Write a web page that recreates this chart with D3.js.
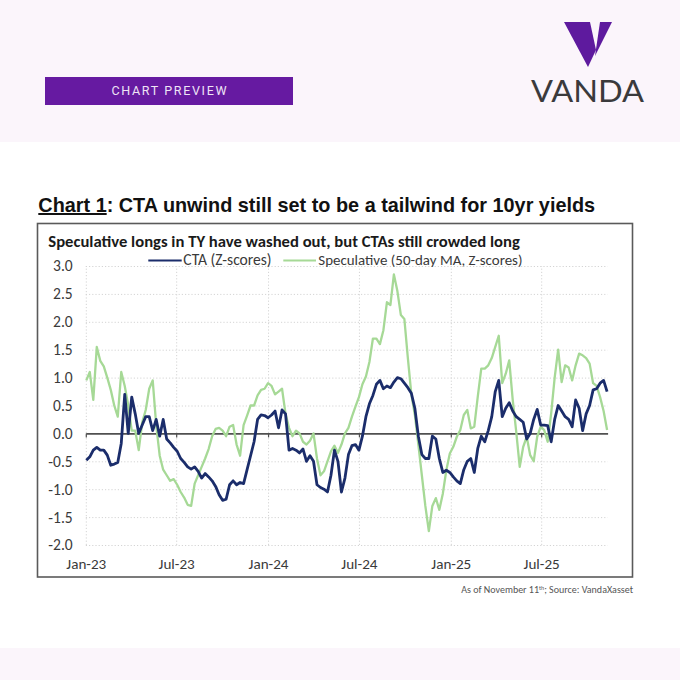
<!DOCTYPE html>
<html><head><meta charset="utf-8">
<script src="https://cdn.jsdelivr.net/npm/d3@7"></script>
<style>html,body{margin:0;padding:0;background:#fff;}svg{display:block;}</style>
</head><body>
<svg id="c" width="680" height="680"></svg>
<script>
// ---------------- data ----------------
const chartTitleLead = "Chart 1";
const chartTitleRest = ": CTA unwind still set to be a tailwind for 10yr yields";
const subtitle = "Speculative longs in TY have washed out, but CTAs still crowded long";
const seriesNames = ["CTA (Z-scores)", "Speculative (50-day MA, Z-scores)"];
const yTicks = [3.0, 2.5, 2.0, 1.5, 1.0, 0.5, 0.0, -0.5, -1.0, -1.5, -2.0];
const xTickLabels = ["2023-01-01", "2023-07-01", "2024-01-01", "2024-07-01", "2025-01-01", "2025-07-01"];
const firstWeek = "2023-01-02"; // weekly observations
const lastDate = "2025-11-11";

const ctaValues = [
 -0.48,-0.42,-0.30,-0.25,-0.30,-0.30,-0.39,-0.57,-0.55,-0.52,
 -0.18,0.70,0.00,0.65,0.35,0.00,0.15,0.30,0.30,0.05,
 0.25,-0.05,0.25,-0.10,-0.17,-0.25,-0.32,-0.45,-0.52,-0.60,
 -0.64,-0.60,-0.68,-0.80,-0.72,-0.78,-0.85,-0.95,-1.10,-1.20,
 -1.18,-0.92,-0.85,-0.92,-0.88,-0.90,-0.65,-0.40,-0.15,0.25,
 0.33,0.32,0.28,0.33,0.40,0.10,0.42,0.35,-0.30,-0.27,
 -0.30,-0.35,-0.28,-0.50,-0.40,-0.50,-0.92,-0.97,-1.00,-1.05,
 -0.75,-0.30,-0.50,-1.05,-0.80,-0.38,-0.22,-0.20,-0.30,-0.05,
 0.30,0.53,0.68,0.88,0.95,0.80,0.85,0.82,0.92,1.00,
 0.98,0.90,0.82,0.72,0.45,-0.05,-0.38,-0.45,-0.45,-0.05,
 -0.10,-0.45,-0.70,-0.66,-0.70,-0.78,-0.85,-0.90,-0.65,-0.50,
 -0.45,-0.70,-0.27,-0.05,-0.15,0.05,0.30,0.75,0.95,0.30,
 0.45,0.55,0.40,0.30,0.25,0.20,-0.10,0.00,0.25,0.43,
 0.15,0.15,0.14,-0.15,0.25,0.50,0.40,0.30,0.25,0.12,
 0.60,0.45,0.05,0.35,0.50,0.78,0.80,0.90,0.95,0.75
];
const specValues = [
 0.95,1.10,0.60,1.55,1.30,1.20,1.00,0.78,0.50,0.30,
 1.10,0.85,0.50,0.05,0.05,-0.30,0.20,0.42,0.80,0.95,
 0.15,-0.40,-0.65,-0.75,-0.85,-0.82,-0.92,-1.05,-1.15,-1.28,
 -1.30,-0.90,-0.75,-0.60,-0.45,-0.28,-0.05,0.08,0.10,0.05,
 -0.05,0.12,0.15,-0.20,-0.40,0.15,0.32,0.50,0.50,0.68,
 0.78,0.80,0.90,0.85,0.70,0.75,0.80,0.35,0.10,-0.05,
 0.05,0.00,-0.15,-0.20,-0.13,0.00,-0.45,-0.75,-0.68,-0.50,
 -0.32,-0.22,-0.35,-0.20,0.00,0.10,0.30,0.48,0.65,0.88,
 1.02,1.28,1.70,1.70,1.60,1.85,2.35,2.30,2.85,2.55,
 2.12,2.05,1.35,0.70,0.33,-0.20,-0.75,-1.30,-1.75,-1.30,
 -1.16,-1.37,-1.08,-0.66,-0.36,-0.24,-0.06,0.06,0.33,0.42,
 0.09,0.12,0.66,1.16,1.16,1.22,1.35,1.55,1.75,0.90,
 1.07,1.31,0.60,0.03,-0.60,-0.24,-0.06,-0.39,-0.50,-0.06,
 0.12,0.06,-0.15,0.36,1.00,1.50,0.92,1.22,1.18,0.95,
 1.22,1.43,1.40,1.35,1.25,0.90,0.85,0.65,0.40,0.06
];

// ---------------- drawing ----------------
const svg = d3.select("#c");
const parse = d3.timeParse("%Y-%m-%d");
const FONT = "Carlito, Calibri, Lato, 'Open Sans', sans-serif";

function fit(sel, target) {
  const node = sel.node();
  const w = node.getComputedTextLength();
  const fs = parseFloat(sel.attr("font-size"));
  sel.attr("font-size", fs * target / w);
}

// backgrounds
svg.append("rect").attr("x",0).attr("y",0).attr("width",680).attr("height",142).attr("fill","#fbf5fb");
svg.append("rect").attr("x",0).attr("y",142).attr("width",680).attr("height",506).attr("fill","#ffffff");
svg.append("rect").attr("x",0).attr("y",648).attr("width",680).attr("height",32).attr("fill","#fbf5fb");

// banner
svg.append("rect").attr("x",45).attr("y",77).attr("width",248).attr("height",28).attr("fill","#661aa1");
svg.append("text").attr("x",169).attr("y",95.3).attr("text-anchor","middle")
  .attr("font-family","Roboto, 'Liberation Sans', sans-serif").attr("font-size",12.5)
  .attr("fill","#efe4f6").attr("textLength",115).attr("lengthAdjust","spacing")
  .text("CHART PREVIEW");

// logo
const logo = svg.append("g");
logo.append("polygon").attr("points","564,22 590,22 596,50 588,67").attr("fill","#5e1a9e");
logo.append("polygon").attr("points","600,22 612,22 595,56").attr("fill","#5e1a9e");
logo.append("text").attr("x",531).attr("y",101.7).attr("font-family","Lato, sans-serif")
  .attr("font-size",30).attr("fill","#3a3a3c").attr("textLength",113).attr("lengthAdjust","spacingAndGlyphs")
  .text("VANDA");

// title
const t = svg.append("text").attr("x",38.3).attr("y",212)
  .attr("font-family","'Liberation Sans', Arial, sans-serif").attr("font-weight","bold")
  .attr("font-size",20).attr("fill","#111");
t.append("tspan").style("text-decoration","underline").text(chartTitleLead);
t.append("tspan").text(chartTitleRest);
fit(t, 557);

// frame
svg.append("rect").attr("x",37.5).attr("y",223.5).attr("width",595).attr("height",353.5)
  .attr("fill","none").attr("stroke","#5a5a5a").attr("stroke-width",1.6);

// subtitle
const st = svg.append("text").attr("x",48.3).attr("y",247).attr("font-family",FONT)
  .attr("font-weight","bold").attr("font-size",15).attr("fill","#1a1a1a").text(subtitle);
fit(st, 472);

// scales
const x = d3.scaleTime().domain([parse("2023-01-01"), parse(lastDate)]).range([85.8, 607.6]);
const y = d3.scaleLinear().domain([-2, 3]).range([545, 266]);
const start = parse(firstWeek);
const dates = ctaValues.map((_, i) => d3.timeDay.offset(start, 7 * i));
const xTicks = xTickLabels.map(parse);

// gridlines
const gH = svg.append("g").attr("transform",`translate(${x.range()[0]},0)`)
  .call(d3.axisLeft(y).tickValues(yTicks.filter(v => v !== 0)).tickSize(-(x.range()[1]-x.range()[0])).tickFormat(""));
gH.select(".domain").remove();
gH.selectAll("line").attr("stroke","#d4d4d4").attr("stroke-dasharray","1.2,2");
const gV = svg.append("g").attr("transform",`translate(0,${y(-2)})`)
  .call(d3.axisBottom(x).tickValues(xTicks).tickSize(-(y(-2)-y(3))).tickFormat(""));
gV.select(".domain").remove();
gV.selectAll("line").attr("stroke","#d4d4d4").attr("stroke-dasharray","1.2,2");

// y labels
const yFs = (() => {
  const tmp = svg.append("text").attr("font-family",FONT).attr("font-size",14).text("-2.0");
  const w = tmp.node().getComputedTextLength(); tmp.remove(); return 14 * 24.4 / w;
})();
const gY = svg.append("g").attr("transform","translate(72.7,0)")
  .call(d3.axisLeft(y).tickValues(yTicks).tickSize(0).tickPadding(0).tickFormat(d => d.toFixed(1)));
gY.select(".domain").remove();
gY.selectAll("text").attr("font-family",FONT).attr("font-size",yFs).attr("fill","#3a3a3a");

// x labels
const xFs = (() => {
  const tmp = svg.append("text").attr("font-family",FONT).attr("font-size",14).text("Jan-23");
  const w = tmp.node().getComputedTextLength(); tmp.remove(); return 14 * 40 / w;
})();
const gX = svg.append("g").attr("transform",`translate(0,${y(-2)})`)
  .call(d3.axisBottom(x).tickValues(xTicks).tickSize(0).tickPadding(24 - 0.71 * xFs).tickFormat(d3.timeFormat("%b-%y")));
gX.select(".domain").remove();
gX.selectAll("text").attr("font-family",FONT).attr("font-size",xFs).attr("fill","#3a3a3a");

// zero axis line with ticks
const gZ = svg.append("g").attr("transform",`translate(0,${y(0)})`)
  .call(d3.axisBottom(x).tickValues(xTicks).tickSize(4).tickSizeOuter(0).tickFormat(""));
gZ.select(".domain").attr("stroke","#505050").attr("stroke-width",1.6);
gZ.selectAll("line").attr("stroke","#505050").attr("stroke-width",1.2);

// lines
const line = d3.line().x((d, i) => x(dates[i])).y(d => y(d)).curve(d3.curveLinear);
svg.append("path").datum(specValues).attr("d", line).attr("fill","none")
  .attr("stroke","#a6d996").attr("stroke-width",2.3).attr("stroke-linejoin","round");
svg.append("path").datum(ctaValues).attr("d", line).attr("fill","none")
  .attr("stroke","#1b2d6b").attr("stroke-width",2.8).attr("stroke-linejoin","round");

// legend
const legendColors = ["#1b2d6b", "#a6d996"];
const legendLine = [[148.3, 181.7], [283.3, 316]];
const legendText = [[183.3, 88.4], [318.3, 204.4]];
seriesNames.forEach((name, i) => {
  svg.append("line").attr("x1",legendLine[i][0]).attr("x2",legendLine[i][1]).attr("y1",260.5).attr("y2",260.5)
    .attr("stroke",legendColors[i]).attr("stroke-width",2);
  const lt = svg.append("text").attr("x",legendText[i][0]).attr("y",265.3).attr("font-family",FONT)
    .attr("font-size",14).attr("fill","#3a3a3a").text(name);
  fit(lt, legendText[i][1]);
});

// footnote
const fn = svg.append("text").attr("x",633).attr("y",593).attr("text-anchor","end")
  .attr("font-family",FONT).attr("font-size",10).attr("fill","#555");
fn.append("tspan").text("As of November 11");
fn.append("tspan").attr("font-size","0.6em").attr("dy","-0.5em").text("th");
fn.append("tspan").attr("dy","0.3em").text("; Source: VandaXasset");
fit(fn, 172);
</script>
</body></html>
